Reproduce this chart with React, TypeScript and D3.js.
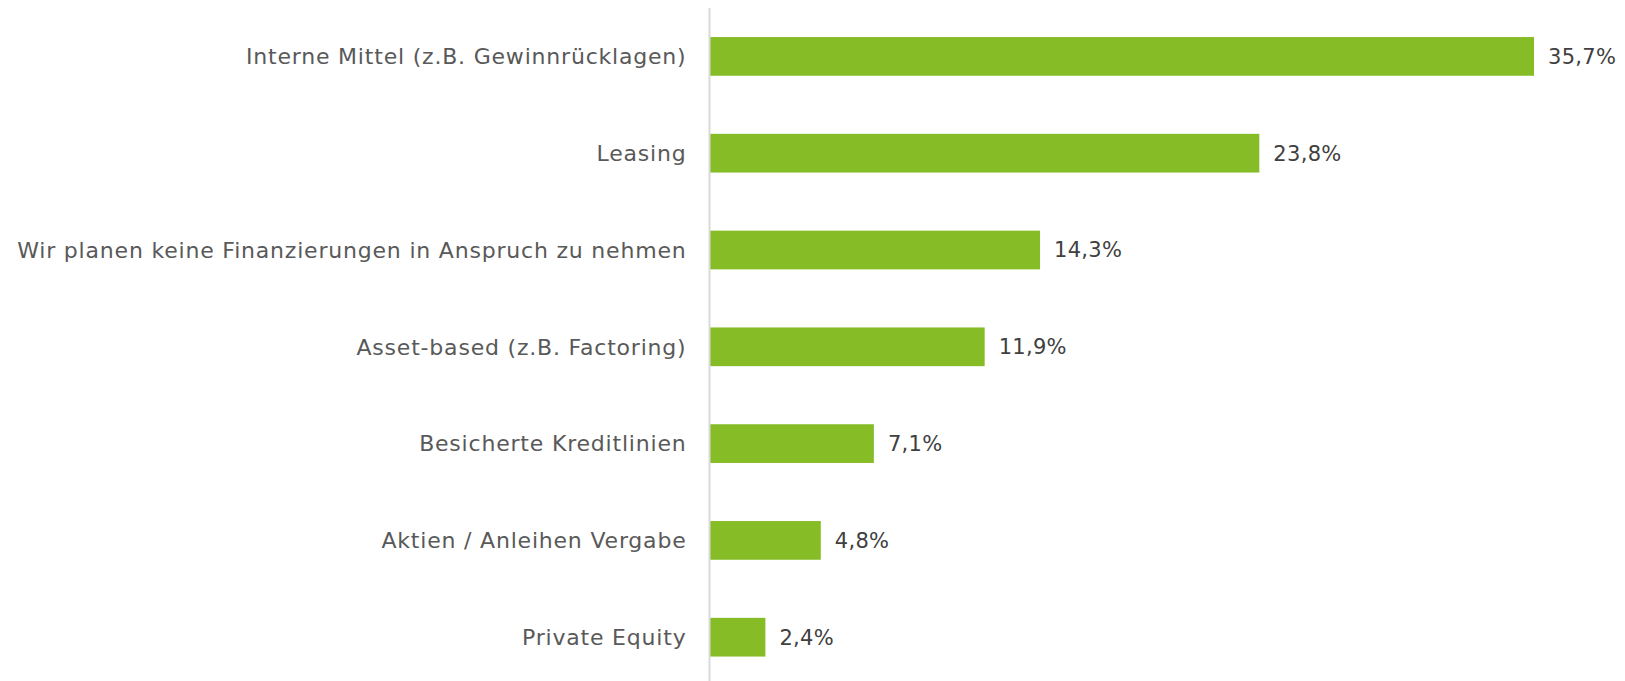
import React from "react";
import { scaleLinear, scaleBand } from "d3";

const categories = [
  "Interne Mittel (z.B. Gewinnrücklagen)",
  "Leasing",
  "Wir planen keine Finanzierungen in Anspruch zu nehmen",
  "Asset-based (z.B. Factoring)",
  "Besicherte Kreditlinien",
  "Aktien / Anleihen Vergabe",
  "Private Equity",
];
const values = [35.7, 23.8, 14.3, 11.9, 7.1, 4.8, 2.4];
const valueLabels = ["35,7%", "23,8%", "14,3%", "11,9%", "7,1%", "4,8%", "2,4%"];

const width = 1625;
const height = 681;
const axisX = 709.5;

const App = () => {
  const xScale = scaleLinear().domain([0, 35.7]).range([axisX + 0.5, 1534]);
  const yScale = scaleBand()
    .domain(categories)
    .range([8, 8 + 96.8 * 7])
    .paddingInner(0.6)
    .paddingOuter(0.3);

  const bars = categories.map((c, i) => (
    <g key={c}>
      <rect
        x={xScale(0)}
        y={yScale(c)}
        width={xScale(values[i]) - xScale(0)}
        height={yScale.bandwidth()}
        fill="#86bc25"
      />
      <text
        x={xScale(values[i]) + 14}
        y={yScale(c) + yScale.bandwidth() / 2}
        dy="0.35em"
        fill="#404040"
        fontSize="21px"
        letterSpacing="0.3"
      >
        {valueLabels[i]}
      </text>
      <text
        x={axisX - 23}
        y={yScale(c) + yScale.bandwidth() / 2}
        dy="0.35em"
        textAnchor="end"
        fill="#595959"
        fontSize="22px"
        letterSpacing="0.8"
      >
        {c}
      </text>
    </g>
  ));

  return (
    <div style={{ position: "absolute", left: 0, top: 0 }}>
      <svg width={width} height={height} fontFamily="'DejaVu Sans', Verdana, sans-serif">
        <rect width={width} height={height} fill="#fff" />
        {bars}
        <line x1={axisX} x2={axisX} y1={8} y2={height} stroke="#d9d9d9" strokeWidth="2" />
      </svg>
    </div>
  );
};

export default App;
